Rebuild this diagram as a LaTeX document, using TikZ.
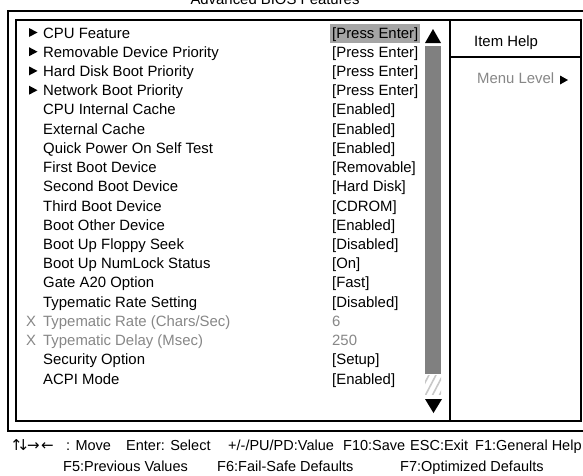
\documentclass[tikz,border=0pt]{standalone}
\usepackage{fontspec}
\setmainfont{Liberation Sans}
\newfontfamily\symfont{DejaVu Sans}
\definecolor{dimtext}{RGB}{135,135,135}
\definecolor{hilite}{RGB}{165,165,165}
\definecolor{barfill}{RGB}{128,128,128}
\definecolor{hatchc}{RGB}{200,200,200}
\begin{document}
\begin{tikzpicture}[x=1pt,y=-1pt,
  txt/.style={inner sep=0pt, anchor=base west, font=\fontsize{14.9}{16}\selectfont},
  dim/.style={txt, text=dimtext},
  foot/.style={txt, font=\fontsize{14.5}{16}\selectfont},
  arrowsym/.style={inner sep=0pt, anchor=base, font=\symfont\fontsize{15}{16}\selectfont},
  frame/.style={draw=black, line width=1.1pt}]
\useasboundingbox (0,0) rectangle (583,475);
\fill[white] (0,0) rectangle (583,475);
% title
\node[txt, anchor=base] (title) at (275,4.5) {Advanced BIOS Features};
% frames
\draw[frame] (8,11) rectangle (600,431);
\draw[frame] (16,20) rectangle (581,421);
\draw[frame] (450,20) -- (450,421);
\draw[frame] (450,57) -- (581,57);
% highlight of current value
\fill[hilite] (330,24) rectangle (420,43);
% rows
\foreach \i/\yb/\lab/\val in {
  0/38/CPU Feature/{[Press Enter]},
  1/57.2/Removable Device Priority/{[Press Enter]},
  2/76.4/Hard Disk Boot Priority/{[Press Enter]},
  3/95.7/Network Boot Priority/{[Press Enter]},
  4/114.9/CPU Internal Cache/{[Enabled]},
  5/134.1/External Cache/{[Enabled]},
  6/153.3/Quick Power On Self Test/{[Enabled]},
  7/172.5/First Boot Device/{[Removable]},
  8/191.8/Second Boot Device/{[Hard Disk]},
  9/211.0/Third Boot Device/{[CDROM]},
  10/230.2/Boot Other Device/{[Enabled]},
  11/249.4/Boot Up Floppy Seek/{[Disabled]},
  12/268.6/Boot Up NumLock Status/{[On]},
  13/287.9/Gate A20 Option/{[Fast]},
  14/307.1/Typematic Rate Setting/{[Disabled]},
  17/364.7/Security Option/{[Setup]},
  18/384.0/ACPI Mode/{[Enabled]}}{
  \node[txt] (lab\i) at (43,\yb) {\lab};
  \node[txt] (val\i) at (332,\yb) {\val};
}
% disabled rows
\node[dim] (x15) at (26,326.3) {X};
\node[dim] (lab15) at (43,326.3) {Typematic Rate (Chars/Sec)};
\node[dim] (val15) at (332,326.3) {6};
\node[dim] (x16) at (26,345.5) {X};
\node[dim] (lab16) at (43,345.5) {Typematic Delay (Msec)};
\node[dim] (val16) at (332,345.5) {250};
% submenu triangles
\foreach \yb in {38,57.2,76.4,95.7}{
  \fill (29,\yb-10) -- (37.5,\yb-5.5) -- (29,\yb-1) -- cycle;
}
% scrollbar
\fill (425,43) -- (441,43) -- (433,29) -- cycle;
\fill[barfill] (425,46) rectangle (441,374);
\begin{scope}
  \clip (425,375) rectangle (441,394);
  \foreach \k in {-21,-14,...,21}{
    \draw[hatchc, line width=1.6pt] (425+\k,396) -- (437+\k,373);
  }
\end{scope}
\fill (425,399) -- (442,399) -- (433.5,413) -- cycle;
% item help panel
\node[txt] (help) at (474,46.5) {Item Help};
\node[dim] (menulevel) at (477,83) {Menu Level};
\fill (560,75.5) -- (568,80) -- (560,84.5) -- cycle;
% footer line 1
\node[arrowsym] (aup) at (16.5,450) {↑};
\node[arrowsym] (adown) at (23.5,450) {↓};
\node[arrowsym] (aright) at (33.5,450) {→};
\node[arrowsym] (aleft) at (47.5,450) {←};
\node[foot] (fmove) at (66,450) {: Move};
\node[foot] (fenter) at (126,450) {Enter: Select};
\node[foot] (fval) at (228,450) {+/-/PU/PD:Value};
\node[foot] (fsave) at (343,450) {F10:Save};
\node[foot] (fesc) at (410,450) {ESC:Exit};
\node[foot] (fhelp) at (475,450) {F1:General Help};
% footer line 2
\node[foot] (ff5) at (63,471) {F5:Previous Values};
\node[foot] (ff6) at (217,471) {F6:Fail-Safe Defaults};
\node[foot] (ff7) at (400,471) {F7:Optimized Defaults};
\end{tikzpicture}
\end{document}
